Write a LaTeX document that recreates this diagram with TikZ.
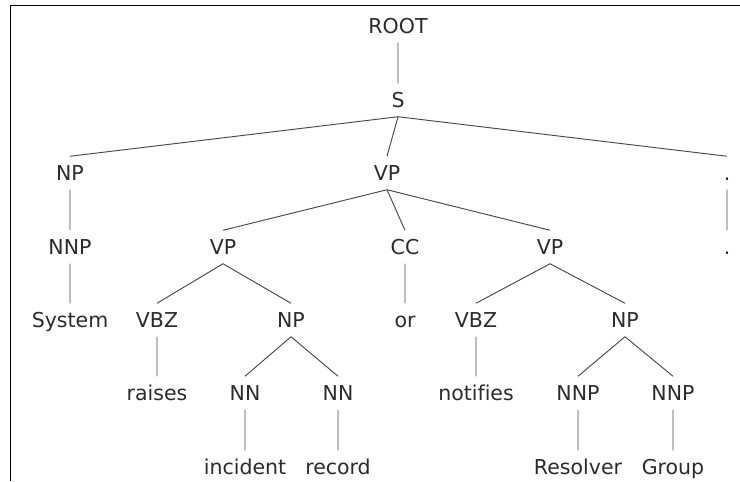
\documentclass[tikz,border=0pt]{standalone}
\usepackage{fontspec}
\setmainfont{DejaVu Sans}[Ligatures=NoCommon]
\usepackage{xcolor}
\definecolor{parse-text}{HTML}{2B2B2B}
\definecolor{parse-line}{HTML}{484848}
\definecolor{parse-frame}{HTML}{000000}
\usepackage{tikz}

\tikzset{
    tag/.style={text=parse-text, font=\fontsize{17.5}{20}\selectfont, inner sep=0pt,
                minimum height=0.99cm, text height=0.45cm, text depth=0pt},
    branch/.style={draw=parse-line, line width=0.8pt}
}

\begin{document}
\begin{tikzpicture}[x=0.03cm, y=-0.03cm]

    % Page
    \useasboundingbox (0, 0) rectangle (740, 481);
    \draw[parse-frame, line width=1.1pt] (740, 5.3) -- (10.6, 5.3) -- (10.6, 481);

    % Phrases
    \node[tag] (root) at (398, 26) {ROOT};
    \node[tag] (s) at (398, 100) {S};
    \node[tag] (np-subj) at (70, 173) {NP};
    \node[tag] (vp-main) at (387, 173) {VP};
    \node[tag] (dot-tag) at (727, 173) {.};
    \node[tag] (nnp-subj) at (70, 247) {NNP};
    \node[tag] (vp-raise) at (223, 247) {VP};
    \node[tag] (cc) at (405, 247) {CC};
    \node[tag] (vp-notify) at (550, 247) {VP};
    \node[tag] (dot-word) at (727, 247) {.};
    \node[tag] (system) at (70, 320) {System};
    \node[tag] (vbz-raise) at (157, 320) {VBZ};
    \node[tag] (np-record) at (291, 320) {NP};
    \node[tag] (or) at (405, 320) {or};
    \node[tag] (vbz-notify) at (476, 320) {VBZ};
    \node[tag] (np-group) at (625, 320) {NP};

    % Words
    \node[tag] (raises) at (157, 393) {raises};
    \node[tag] (nn-incident) at (245, 393) {NN};
    \node[tag] (nn-record) at (338, 393) {NN};
    \node[tag] (notifies) at (476, 393) {notifies};
    \node[tag] (nnp-resolver) at (578, 393) {NNP};
    \node[tag] (nnp-group) at (673, 393) {NNP};
    \node[tag] (incident) at (245, 467) {incident};
    \node[tag] (record) at (338, 467) {record};
    \node[tag] (resolver) at (578, 467) {Resolver};
    \node[tag] (group) at (673, 467) {Group};

    % Branches
    \draw[branch] (root.south) -- (s.north)
                  (s.south) -- (np-subj.north) % Subject
                  (s.south) -- (vp-main.north)
                  (s.south) -- (dot-tag.north)
                  (np-subj.south) -- (nnp-subj.north)
                  (nnp-subj.south) -- (system.north)
                  (dot-tag.south) -- (dot-word.north)
                  (vp-main.south) -- (vp-raise.north) % Coordination
                  (vp-main.south) -- (cc.north)
                  (vp-main.south) -- (vp-notify.north)
                  (cc.south) -- (or.north)
                  (vp-raise.south) -- (vbz-raise.north) % First verb
                  (vp-raise.south) -- (np-record.north)
                  (vbz-raise.south) -- (raises.north)
                  (np-record.south) -- (nn-incident.north)
                  (np-record.south) -- (nn-record.north)
                  (nn-incident.south) -- (incident.north)
                  (nn-record.south) -- (record.north)
                  (vp-notify.south) -- (vbz-notify.north) % Second verb
                  (vp-notify.south) -- (np-group.north)
                  (vbz-notify.south) -- (notifies.north)
                  (np-group.south) -- (nnp-resolver.north)
                  (np-group.south) -- (nnp-group.north)
                  (nnp-resolver.south) -- (resolver.north)
                  (nnp-group.south) -- (group.north);

\end{tikzpicture}
\end{document}
